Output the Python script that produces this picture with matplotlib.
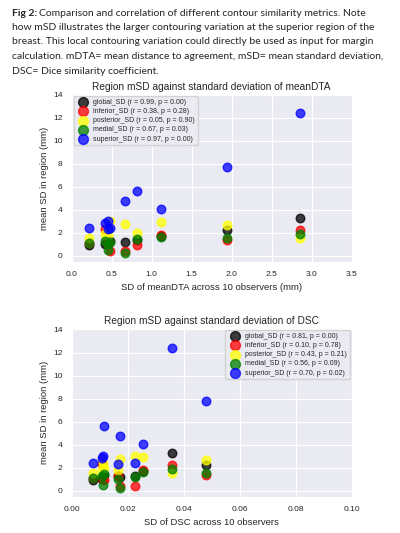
import matplotlib
matplotlib.use("Agg")
import matplotlib.pyplot as plt
import seaborn as sns

# one value per case (10 cases), x = spread across 10 observers
dta_sd = [0.22, 0.42, 0.46, 0.46, 0.48, 0.67, 0.82, 1.12, 1.94, 2.85]
dsc_sd = [0.0075, 0.0107, 0.0113, 0.0165, 0.0226, 0.0172, 0.0115, 0.0255, 0.048, 0.036]

global_sd = [0.95, 1.05, 1.2, 1.3, 1.3, 1.2, 1.4, 1.7, 2.25, 3.3]
inferior_sd = [1.1, 2.3, 1.0, 1.3, 0.45, 0.45, 0.95, 1.85, 1.35, 2.25]
posterior_sd = [1.6, 1.9, 2.4, 1.8, 3.0, 2.75, 2.0, 2.95, 2.7, 1.6]
medial_sd = [1.1, 1.3, 0.5, 1.0, 1.2, 0.3, 1.45, 1.67, 1.6, 1.9]
superior_sd = [2.45, 2.85, 3.0, 2.3, 2.45, 4.8, 5.66, 4.1, 7.76, 12.4]

regions = ["global_SD", "inferior_SD", "posterior_SD", "medial_SD", "superior_SD"]
colors = ["black", "red", "yellow", "green", "blue"]
stats_dta = ["(r = 0.99, p = 0.00)", "(r = 0.38, p = 0.28)", "(r = 0.05, p = 0.90)",
             "(r = 0.67, p = 0.03)", "(r = 0.97, p = 0.00)"]
stats_dsc = ["(r = 0.81, p = 0.00)", "(r = 0.10, p = 0.78)", "(r = 0.43, p = 0.21)",
             "(r = 0.56, p = 0.09)", "(r = 0.70, p = 0.02)"]

caption = [
    "Comparison and correlation of different contour similarity metrics. Note",
    "how mSD illustrates the larger contouring variation at the superior region of the",
    "breast. This local contouring variation could directly be used as input for margin",
    "calculation. mDTA= mean distance to agreement, mSD= mean standard deviation,",
    "DSC= Dice similarity coefficient.",
]

sns.set_style("darkgrid")
plt.rcParams["font.family"] = ["Liberation Sans", "DejaVu Sans"]

fig = plt.figure(figsize=(4, 5.33), dpi=100)

# caption
cap_font = ["Lato", "DejaVu Sans"]
cap_size = 7.5
y0 = 1 - 13 / 533
step = 14.5 / 533
t = fig.text(12 / 400, y0, "Fig 2:", fontsize=cap_size, fontweight="bold",
             family=cap_font, va="center", ha="left")
fig.canvas.draw()
bb = t.get_window_extent()
fig.text((bb.x1 + 2) / 400, y0, caption[0], fontsize=cap_size, family=cap_font,
         va="center", ha="left")
for i, line in enumerate(caption[1:], start=1):
    fig.text(12 / 400, y0 - i * step, line, fontsize=cap_size, family=cap_font,
             va="center", ha="left")

series = [global_sd, inferior_sd, posterior_sd, medial_sd, superior_sd]

ax1 = fig.add_axes([0.179, 0.509, 0.70, 0.314])
for vals, c, name, st in zip(series, colors, regions, stats_dta):
    ax1.scatter(dta_sd, vals, s=38, color=c, alpha=0.75, label=f"{name} {st}")
ax1.set_xlim(0, 3.5)
ax1.set_ylim(-0.5, 14.05)
ax1.set_xticks([0, 0.5, 1.0, 1.5, 2.0, 2.5, 3.0, 3.5])
ax1.set_yticks(range(0, 15, 2))
ax1.set_title("Region mSD against standard deviation of meanDTA", fontsize=7.3, pad=3)
ax1.set_xlabel("SD of meanDTA across 10 observers (mm)", fontsize=6.8, labelpad=4)
ax1.set_ylabel("mean SD in region (mm)", fontsize=6.8, labelpad=3)
ax1.tick_params(labelsize=6.1, pad=3)
ax1.legend(loc="upper left", fontsize=5.0, borderaxespad=0.3, handletextpad=0.4,
           labelspacing=0.3, markerscale=1.15, frameon=True)

ax2 = fig.add_axes([0.179, 0.068, 0.70, 0.316])
for vals, c, name, st in zip(series, colors, regions, stats_dsc):
    ax2.scatter(dsc_sd, vals, s=38, color=c, alpha=0.75, label=f"{name} {st}")
ax2.set_xlim(0, 0.1)
ax2.set_ylim(-0.5, 14.1)
ax2.set_xticks([0, 0.02, 0.04, 0.06, 0.08, 0.10])
ax2.set_xticklabels(["0.00", "0.02", "0.04", "0.06", "0.08", "0.10"])
ax2.set_yticks(range(0, 15, 2))
ax2.set_title("Region mSD against standard deviation of DSC", fontsize=7.3, pad=3)
ax2.set_xlabel("SD of DSC across 10 observers", fontsize=6.8, labelpad=4)
ax2.set_ylabel("mean SD in region (mm)", fontsize=6.8, labelpad=3)
ax2.tick_params(labelsize=6.1, pad=3)
ax2.legend(loc="upper right", fontsize=5.0, borderaxespad=0.3, handletextpad=0.4,
           labelspacing=0.3, markerscale=1.15, frameon=True)

fig.savefig("out.png", dpi=100)
